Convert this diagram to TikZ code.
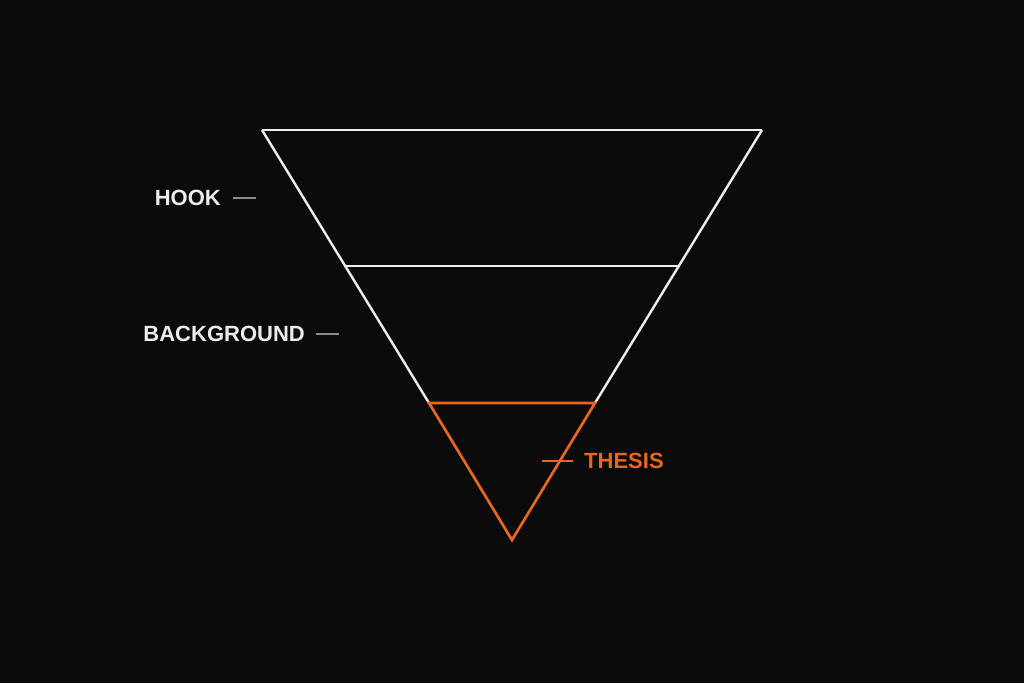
\documentclass[tikz,border=0pt]{standalone}
\usepackage{fontspec}
\setmainfont{Liberation Sans}
\definecolor{bgdark}{HTML}{0B0B0B}
\definecolor{funnelwhite}{HTML}{EDEDED}
\definecolor{thesisorange}{HTML}{E8661E}
\definecolor{tickgray}{HTML}{8A8A8A}
\begin{document}
\begin{tikzpicture}[x=1pt,y=-1pt]
  \tikzstyle{funnel}=[funnelwhite,line width=2.4pt]
  \tikzstyle{thesisline}=[thesisorange,line width=2.7pt,line join=miter]
  \tikzstyle{tick}=[line width=1.3pt]
  \tikzstyle{label}=[font=\fontsize{22}{25}\selectfont\bfseries,inner sep=0pt]

  \fill[bgdark] (0,0) rectangle (1024,683);
  \useasboundingbox (0,0) rectangle (1024,683);

  \coordinate (topL) at (262,130);
  \coordinate (topR) at (762,130);
  \coordinate (midL) at (346,266);
  \coordinate (midR) at (678,266);
  \coordinate (thL) at (429,403);
  \coordinate (thR) at (595,403);
  \coordinate (apex) at (512,540);

  \draw[funnel] (topL) -- (topR);
  \draw[funnel] (topL) -- (thL);
  \draw[funnel] (topR) -- (thR);
  \draw[funnel] (midL) -- (midR);

  \draw[thesisline] (thL) -- (thR) -- (apex) -- cycle;

  \node[label,funnelwhite,anchor=east] (hook) at (221,198) {HOOK};
  \node[label,funnelwhite,anchor=east] (background) at (305,334) {BACKGROUND};
  \node[label,thesisorange,anchor=west] (thesis) at (584,461) {THESIS};

  \coordinate (hookend) at (256,198);
  \coordinate (bgend) at (339,334);
  \coordinate (thesisend) at (542,461);

  \draw[tick,tickgray] ([xshift=12pt]hook.east) -- (hookend);
  \draw[tick,tickgray] ([xshift=11pt]background.east) -- (bgend);
  \draw[tick,thesisorange] ([xshift=-11pt]thesis.west) -- (thesisend);

\end{tikzpicture}
\end{document}
